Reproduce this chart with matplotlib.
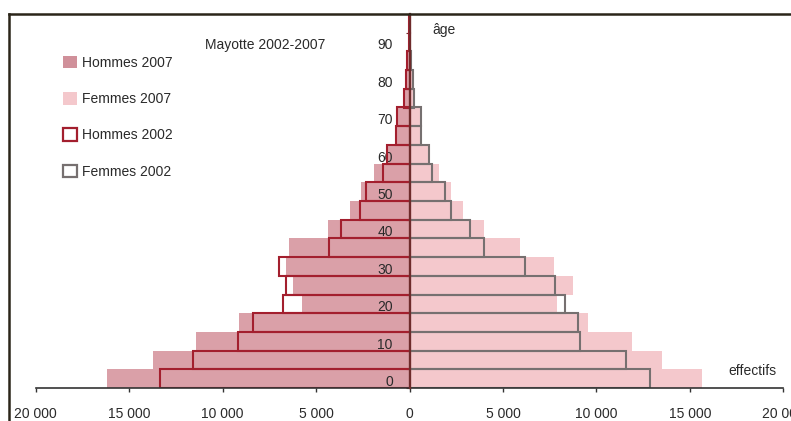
import numpy as np
import matplotlib
matplotlib.use("Agg")
import matplotlib.pyplot as plt
from matplotlib.patches import Patch
from matplotlib.lines import Line2D
from matplotlib.ticker import FixedLocator, MultipleLocator

plt.rcParams['font.family'] = ['Liberation Sans', 'DejaVu Sans']

# age groups (lower bound of each 5-year band)
ages = [0, 5, 10, 15, 20, 25, 30, 35, 40, 45, 50, 55, 60, 65, 70, 75, 80, 85, 90, 95]

hommes_2007 = [16200, 13740, 11440, 9120, 5770, 6250, 6610, 6460, 4340, 3200,
               2600, 1900, 1250, 750, 660, 330, 220, 120, 60, 30]
hommes_2002 = [13350, 11610, 9190, 8350, 6790, 6620, 6960, 4310, 3680, 2650,
               2350, 1420, 1220, 740, 650, 320, 210, 110, 50, 20]
femmes_2007 = [15670, 13490, 11920, 9570, 7870, 8730, 7730, 5910, 4000, 2860,
               2230, 1600, 1100, 650, 640, 280, 200, 120, 60, 30]
femmes_2002 = [12870, 11560, 9120, 9000, 8320, 7800, 6180, 4000, 3240, 2230,
               1920, 1230, 1060, 600, 620, 260, 190, 100, 50, 20]

age_labels = [0, 10, 20, 30, 40, 50, 60, 70, 80, 90]
x_ticks = [-20000, -15000, -10000, -5000, 0, 5000, 10000, 15000, 20000]

c_h07 = '#daa0a8'
c_f07 = '#f4c8cc'
c_h02 = '#a31f2e'
c_f02 = '#767070'
c_axis = '#333333'
c_text = '#2a2a2a'

W, H = 791, 421
fig = plt.figure(figsize=(W / 100, H / 100), dpi=100)
ax = fig.add_axes([35.7 / W, 1 - 388 / H, 747.6 / W, 374 / H])

y = np.array(ages)
h07 = -np.array(hommes_2007)
h02 = -np.array(hommes_2002)

ax.barh(y, h07, height=5, align='edge', color=c_h07, zorder=1)
ax.barh(y, femmes_2007, height=5, align='edge', color=c_f07, zorder=1)
ax.barh(y, h02, height=5, align='edge', fill=False, edgecolor=c_h02, linewidth=1.5, zorder=2)
ax.barh(y, femmes_2002, height=5, align='edge', fill=False, edgecolor=c_f02, linewidth=1.5, zorder=2)

ax.set_xlim(-20000, 20000)
ax.set_ylim(0, 100)

ax.spines['top'].set_visible(False)
ax.spines['right'].set_visible(False)
ax.spines['left'].set_position(('data', 0))
ax.spines['left'].set_color('#6e2b2b')
ax.spines['left'].set_linewidth(1.6)
ax.spines['left'].set_zorder(3)
ax.spines['bottom'].set_color(c_axis)
ax.spines['bottom'].set_linewidth(1.2)

ax.set_xticks(x_ticks)
ax.set_xticklabels([f"{abs(v):,}".replace(",", " ") for v in x_ticks], fontsize=10, color=c_text)
ax.tick_params(axis='x', direction='out', length=3, width=1, color=c_axis, pad=11)

ax.yaxis.set_major_locator(FixedLocator([a + 2 for a in age_labels]))
ax.set_yticklabels([str(a) for a in age_labels], fontsize=10, color=c_text)
ax.yaxis.set_minor_locator(MultipleLocator(5))
ax.tick_params(axis='y', which='major', length=0, pad=12)
ax.tick_params(axis='y', which='minor', length=3, width=0.8, color='#6e2b2b', direction='out')

fig.text(432 / W, 1 - 30 / H, "âge", fontsize=10, color=c_text, va='center', ha='left')
fig.text(752 / W, 1 - 371 / H, "effectifs", fontsize=10, color=c_text, va='center', ha='center')
fig.text(265 / W, 1 - 45 / H, "Mayotte 2002-2007", fontsize=10, color=c_text, va='center', ha='center')

handles = [
    Patch(facecolor='#d0909a', edgecolor='none', label='Hommes 2007'),
    Patch(facecolor=c_f07, edgecolor='none', label='Femmes 2007'),
    Patch(facecolor='white', edgecolor=c_h02, linewidth=1.6, label='Hommes 2002'),
    Patch(facecolor='white', edgecolor=c_f02, linewidth=1.6, label='Femmes 2002'),
]
leg = fig.legend(handles=handles, loc='upper left', bbox_to_anchor=(63 / W, 1 - 56 / H),
                 frameon=False, fontsize=10, handlelength=1.0, handleheight=1.0,
                 handletextpad=0.4, labelspacing=1.6, borderpad=0, borderaxespad=0)
for t in leg.get_texts():
    t.set_color(c_text)

# outer frame (cropped at right and bottom)
fig.add_artist(Line2D([9 / W, 1], [1 - 14 / H, 1 - 14 / H], color='#2b2519', linewidth=1.8))
fig.add_artist(Line2D([9 / W, 9 / W], [0, 1 - 14 / H], color='#2b2519', linewidth=1.8))

fig.savefig("out.png", dpi=100)
